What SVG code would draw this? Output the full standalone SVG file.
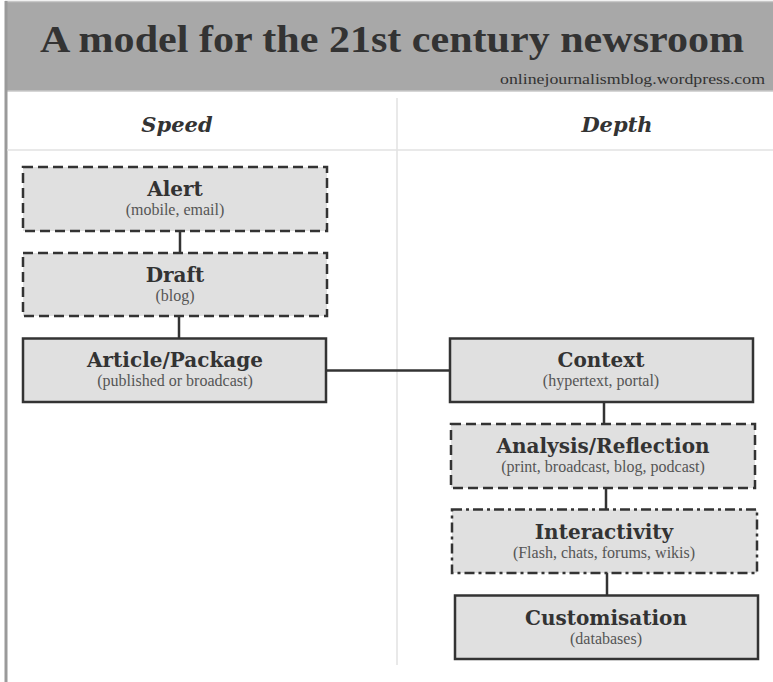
<svg xmlns="http://www.w3.org/2000/svg" width="773" height="682" viewBox="0 0 773 682">
<style>
.box{fill:#e0e0e0;stroke:#333;stroke-width:2.5}
.dash{stroke-dasharray:10 5}
.dashdot{stroke-dasharray:10 4 3 4}
.conn{stroke:#333;stroke-width:2.5;fill:none}
.t{font-family:"DejaVu Serif","Liberation Serif",serif;font-weight:bold;font-size:20px;fill:#333;text-anchor:middle}
.s{font-family:"Liberation Serif","DejaVu Serif",serif;font-size:16px;fill:#555;text-anchor:middle}
.h{font-family:"DejaVu Serif","Liberation Serif",serif;font-weight:bold;font-style:italic;font-size:21px;fill:#333;text-anchor:middle}
</style>
<rect x="0" y="0" width="773" height="682" fill="#fff"/>
<g id="header">
<rect x="5" y="1" width="768" height="90" fill="#a8a8a8"/>
<line x1="5" y1="1.5" x2="773" y2="1.5" stroke="#c8c8c8" stroke-width="1.5"/>
<line x1="5" y1="91" x2="773" y2="91" stroke="#c8c8c8" stroke-width="1.5"/>
<text x="392" y="52" font-family="Liberation Serif, DejaVu Serif, serif" font-weight="bold" font-size="38" fill="#333" text-anchor="middle" textLength="704" lengthAdjust="spacingAndGlyphs">A model for the 21st century newsroom</text>
<text x="765" y="84" font-family="Liberation Serif, serif" font-size="15" fill="#333" text-anchor="end" textLength="265" lengthAdjust="spacingAndGlyphs">onlinejournalismblog.wordpress.com</text>
</g>
<g id="frame">
<line x1="6" y1="1" x2="6" y2="682" stroke="#9a9a9a" stroke-width="3"/>
<line x1="397" y1="98" x2="397" y2="665" stroke="#e2e2e2" stroke-width="1.5"/>
<line x1="7" y1="150" x2="773" y2="150" stroke="#e2e2e2" stroke-width="1.5"/>
<text class="h" x="177" y="132">Speed</text>
<text class="h" x="617" y="132">Depth</text>
</g>
<g id="connectors">
<line class="conn" x1="180" y1="231" x2="180" y2="253"/>
<line class="conn" x1="179" y1="316" x2="179" y2="338"/>
<line class="conn" x1="327" y1="370.5" x2="450" y2="370.5"/>
<line class="conn" x1="604" y1="402" x2="604" y2="424"/>
<line class="conn" x1="606" y1="488" x2="606" y2="509"/>
<line class="conn" x1="607" y1="573" x2="607" y2="595"/>
</g>
<g id="alert">
<rect class="box dash" x="23" y="167" width="304" height="64"/>
<text class="t" x="175" y="196">Alert</text>
<text class="s" x="175" y="215">(mobile, email)</text>
</g>
<g id="draft">
<rect class="box dash" x="23" y="253" width="304" height="63"/>
<text class="t" x="175" y="282">Draft</text>
<text class="s" x="175" y="301">(blog)</text>
</g>
<g id="article">
<rect class="box" x="23" y="338.5" width="303" height="63.5"/>
<text class="t" x="175" y="367">Article/Package</text>
<text class="s" x="175" y="386">(published or broadcast)</text>
</g>
<g id="context">
<rect class="box" x="450" y="338.5" width="303" height="63.5"/>
<text class="t" x="601" y="367">Context</text>
<text class="s" x="601" y="386">(hypertext, portal)</text>
</g>
<g id="analysis">
<rect class="box dash" x="451" y="424" width="304" height="64"/>
<text class="t" x="603" y="453">Analysis/Reflection</text>
<text class="s" x="603" y="472">(print, broadcast, blog, podcast)</text>
</g>
<g id="interactivity">
<rect class="box dashdot" x="452" y="509.5" width="305" height="63.5"/>
<text class="t" x="604" y="539">Interactivity</text>
<text class="s" x="604" y="558">(Flash, chats, forums, wikis)</text>
</g>
<g id="customisation">
<rect class="box" x="455" y="595.5" width="303" height="63.5"/>
<text class="t" x="606" y="625">Customisation</text>
<text class="s" x="606" y="644">(databases)</text>
</g>
</svg>
